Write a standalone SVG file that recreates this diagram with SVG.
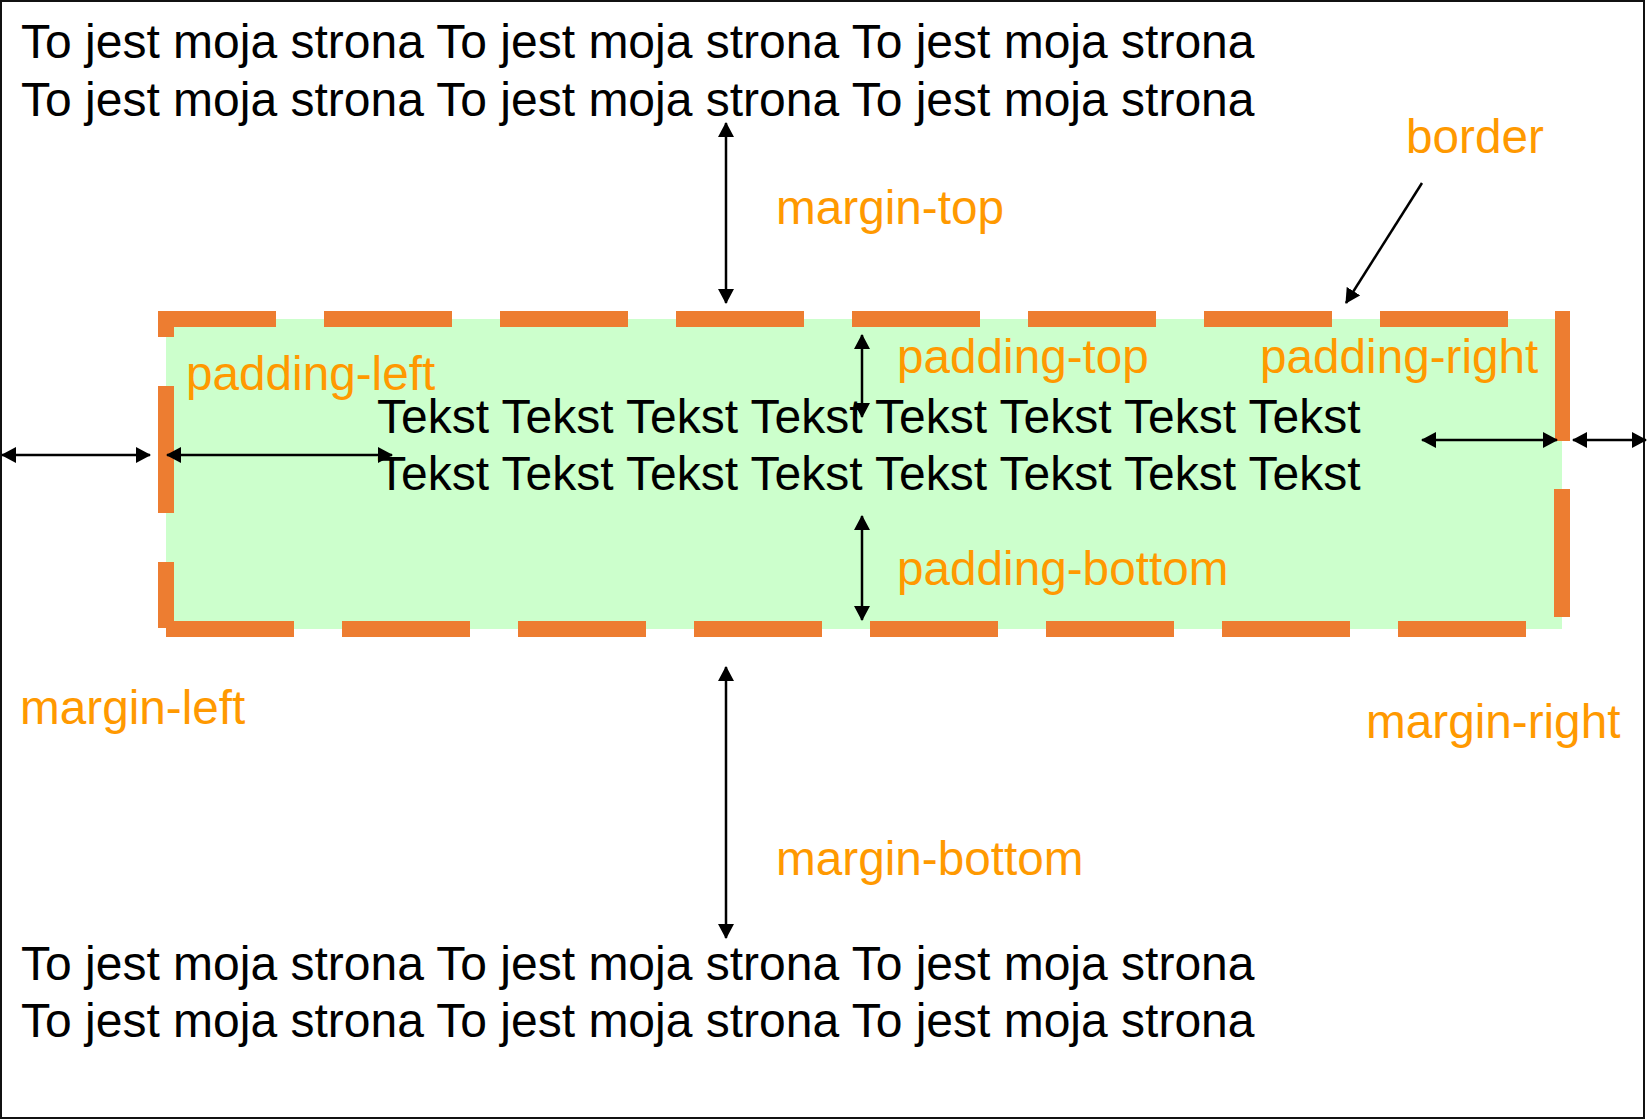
<svg xmlns="http://www.w3.org/2000/svg" width="1648" height="1120" viewBox="0 0 1648 1120">
<style>
.page{font-family:"Liberation Sans",Arial,sans-serif;font-size:48px;fill:#000}
.lbl{font-family:"Liberation Sans",Arial,sans-serif;font-size:47.7px;fill:#FF9900}
.arr{stroke:#000;stroke-width:2.5;fill:none;marker-start:url(#ah);marker-end:url(#ah)}
.arr1{stroke:#000;stroke-width:2.5;fill:none;marker-end:url(#ah)}
.dash{fill:#ED7D31}
</style>
<defs>
<marker id="ah" viewBox="0 0 15 16" refX="14" refY="8" markerWidth="15" markerHeight="16" markerUnits="userSpaceOnUse" orient="auto-start-reverse">
<path d="M0,0 L15,8 L0,16 z" fill="#000"/>
</marker>
</defs>
<rect x="0" y="0" width="1648" height="1120" fill="#fff"/>
<rect id="frame" x="1" y="1" width="1643" height="1117" fill="none" stroke="#111" stroke-width="2"/>

<g id="page-text-top">
<text class="page" x="21" y="58">To jest moja strona To jest moja strona To jest moja strona</text>
<text class="page" x="21" y="116">To jest moja strona To jest moja strona To jest moja strona</text>
</g>

<g id="box">
<rect x="166" y="319" width="1396" height="310" fill="#CCFFCC"/>
<g id="border-dashes">
<rect class="dash" x="158" y="311" width="118" height="16"/>
<rect class="dash" x="324" y="311" width="128" height="16"/>
<rect class="dash" x="500" y="311" width="128" height="16"/>
<rect class="dash" x="676" y="311" width="128" height="16"/>
<rect class="dash" x="852" y="311" width="128" height="16"/>
<rect class="dash" x="1028" y="311" width="128" height="16"/>
<rect class="dash" x="1204" y="311" width="128" height="16"/>
<rect class="dash" x="1380" y="311" width="128" height="16"/>
<rect class="dash" x="1555" y="311" width="15" height="130"/>
<rect class="dash" x="1554" y="489" width="16" height="128"/>
<rect class="dash" x="1398" y="621" width="128" height="16"/>
<rect class="dash" x="1222" y="621" width="128" height="16"/>
<rect class="dash" x="1046" y="621" width="128" height="16"/>
<rect class="dash" x="870" y="621" width="128" height="16"/>
<rect class="dash" x="694" y="621" width="128" height="16"/>
<rect class="dash" x="518" y="621" width="128" height="16"/>
<rect class="dash" x="342" y="621" width="128" height="16"/>
<rect class="dash" x="166" y="621" width="128" height="16"/>
<rect class="dash" x="158" y="562" width="16" height="66"/>
<rect class="dash" x="158" y="386" width="16" height="127"/>
<rect class="dash" x="158" y="311" width="16" height="26"/>
</g>
<text class="page" x="377" y="433">Tekst Tekst Tekst Tekst Tekst Tekst Tekst Tekst</text>
<text class="page" x="377" y="490">Tekst Tekst Tekst Tekst Tekst Tekst Tekst Tekst</text>
</g>

<g id="labels">
<text class="lbl" x="1406" y="153">border</text>
<text class="lbl" x="776" y="224">margin-top</text>
<text class="lbl" x="186" y="390">padding-left</text>
<text class="lbl" x="897" y="373">padding-top</text>
<text class="lbl" x="1260" y="373">padding-right</text>
<text class="lbl" x="897" y="585">padding-bottom</text>
<text class="lbl" x="20" y="724">margin-left</text>
<text class="lbl" x="1366" y="738">margin-right</text>
<text class="lbl" x="776" y="875">margin-bottom</text>
</g>

<g id="connectors">
<line class="arr" x1="726" y1="123" x2="726" y2="303"/>
<line class="arr1" x1="1422" y1="183" x2="1346" y2="303"/>
<line class="arr" x1="2" y1="455" x2="150" y2="455"/>
<line class="arr" x1="167" y1="455" x2="392" y2="455"/>
<line class="arr" x1="862" y1="335" x2="862" y2="417"/>
<line class="arr" x1="862" y1="516" x2="862" y2="620"/>
<line class="arr" x1="1422" y1="440" x2="1557" y2="440"/>
<line class="arr" x1="1573" y1="440" x2="1646" y2="440"/>
<line class="arr" x1="726" y1="667" x2="726" y2="938"/>
</g>

<g id="page-text-bottom">
<text class="page" x="21" y="980">To jest moja strona To jest moja strona To jest moja strona</text>
<text class="page" x="21" y="1037">To jest moja strona To jest moja strona To jest moja strona</text>
</g>
</svg>
